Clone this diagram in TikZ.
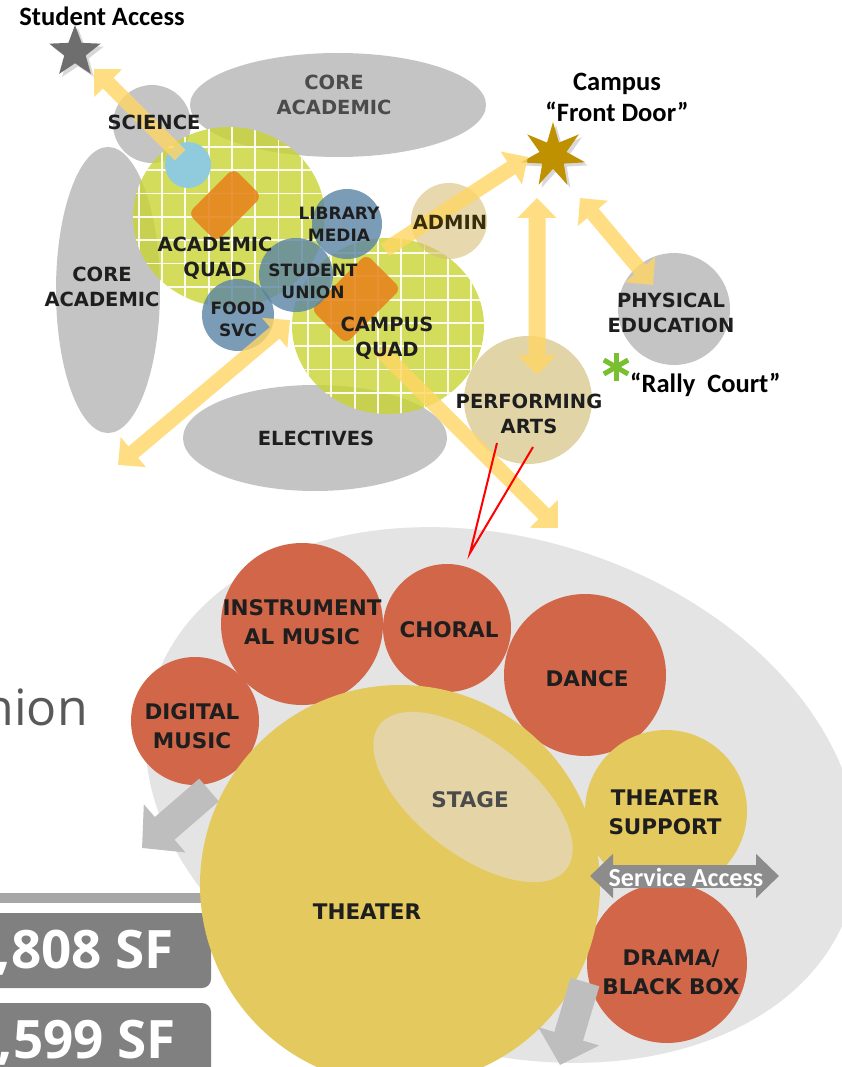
\documentclass[tikz,border=0pt]{standalone}
\usepackage{fontspec}
\setmainfont{Liberation Sans}
\newfontfamily\calfont{Carlito}
\newfontfamily\osfont{Open Sans}
\newfontfamily\labfont{DejaVu Sans}
\usetikzlibrary{shapes.geometric,arrows.meta,shadows}
\definecolor{coregray}{RGB}{196,196,196}
\definecolor{quadcol}{RGB}{200,212,50}
\definecolor{diacol}{RGB}{230,128,25}
\definecolor{bluecol}{RGB}{90,132,165}
\definecolor{ltblue}{RGB}{143,203,221}
\definecolor{admincol}{RGB}{215,190,120}
\definecolor{perfcol}{RGB}{216,200,140}
\definecolor{yarr}{RGB}{255,214,100}
\definecolor{fdgold}{RGB}{191,144,0}
\definecolor{stargray}{RGB}{110,110,110}
\definecolor{rallygreen}{RGB}{122,190,50}
\definecolor{bgell}{RGB}{228,228,228}
\definecolor{redc}{RGB}{210,102,72}
\definecolor{theatc}{RGB}{228,202,94}
\definecolor{stagec}{RGB}{228,212,166}
\definecolor{svcgray}{RGB}{140,140,140}
\definecolor{garrow}{RGB}{190,190,190}
\definecolor{boxgray}{RGB}{128,128,128}
\definecolor{bargray}{RGB}{166,166,166}
\definecolor{niongray}{RGB}{89,89,89}
\definecolor{txt}{RGB}{30,30,30}
\definecolor{admintxt}{RGB}{55,45,10}
\definecolor{softtxt}{RGB}{75,75,75}
\begin{document}
\begin{tikzpicture}[x=1pt,y=-1pt,
  lab/.style={font=\labfont\bfseries\fontsize{19.5}{25}\selectfont, align=center, inner sep=0pt, text=txt},
  labs/.style={font=\labfont\bfseries\fontsize{17}{22}\selectfont, align=center, inner sep=0pt, text=txt},
  labb/.style={font=\labfont\bfseries\fontsize{21.5}{29}\selectfont, align=center, inner sep=0pt, text=txt},
  callab/.style={font=\calfont\bfseries\fontsize{26.5}{31}\selectfont, align=center, inner sep=0pt, text=black},
  blob/.style={circle, inner sep=0pt, outer sep=0pt},
  oval/.style={ellipse, inner sep=0pt, outer sep=0pt},
  grayzone/.style={fill=coregray},
  quadzone/.style={fill=quadcol, fill opacity=0.8},
  gridline/.style={draw=white, line width=1.8pt, opacity=0.9},
  diamondzone/.style={rectangle, rounded corners=7pt, rotate=45, inner sep=0pt, fill=diacol, fill opacity=0.85},
  bluezone/.style={blob, fill=bluecol, fill opacity=0.8},
  yarrow/.style={draw=yarr, line width=15pt},
  gtarrow/.style={draw=garrow, line width=30pt},
  yh/.tip={Triangle[length=20pt, width=38pt]},
  gh/.tip={Triangle[length=30pt, width=62pt]},
  sh/.tip={Triangle[length=23pt, width=43pt]},
  redline/.style={draw=red, line width=2pt},
]
\useasboundingbox (0,0) rectangle (841,1067);
\fill[white] (0,0) rectangle (841,1067);

% ---------- bottom background ellipse ----------
\node[oval, fill=bgell, minimum width=730pt, minimum height=512pt, rotate=-17.6] (paell) at (502,795) {};

% ---------- top gray zones ----------
\node[oval, grayzone, minimum width=296pt, minimum height=104pt] (coretop) at (338,105) {};
\node[oval, grayzone, minimum width=104pt, minimum height=286pt] (coreleft) at (108,290) {};
\node[blob, grayzone, minimum size=78pt] (science) at (152,124) {};
\node[oval, grayzone, minimum width=264pt, minimum height=106pt] (electives) at (315,438) {};
\node[blob, grayzone, minimum size=112pt] (physed) at (674,309) {};

% ---------- quads ----------
\node[oval, quadzone, minimum width=192pt, minimum height=180pt] (aquad) at (229,217) {};
\begin{scope}
  \clip (229,217) ellipse [x radius=96, y radius=90];
  \foreach \k in {-2,...,8} \draw[gridline] ({162+23.3*\k},120) -- ({162+23.3*\k},320);
  \foreach \k in {-1,...,8} \draw[gridline] (120,{147+23.3*\k}) -- (340,{147+23.3*\k});
\end{scope}
\node[oval, quadzone, minimum width=192pt, minimum height=176pt] (cquad) at (388,326) {};
\begin{scope}
  \clip (388,326) ellipse [x radius=96, y radius=88];
  \foreach \k in {-1,...,9} \draw[gridline] ({308+23.3*\k},230) -- ({308+23.3*\k},420);
  \foreach \k in {-1,...,8} \draw[gridline] (285,{253+23.3*\k}) -- (490,{253+23.3*\k});
\end{scope}

\node[blob, fill=ltblue, minimum size=46pt] (lab1) at (188,165) {};
\node[diamondzone, minimum width=64pt, minimum height=40pt] (adia) at (225,205) {};
\node[diamondzone, minimum width=78pt, minimum height=49pt] (cdia) at (356,299) {};

\node[bluezone, minimum size=70pt] (library) at (347,224) {};
\node[bluezone, minimum size=74pt] (sunion) at (296,275) {};
\node[bluezone, minimum size=72pt] (food) at (238,315) {};

\node[blob, fill=admincol, fill opacity=0.6, minimum size=76pt] (admin) at (449,221) {};
\node[blob, fill=perfcol, fill opacity=0.75, minimum size=128pt] (perf) at (528,400) {};

% ---------- stars ----------
\node[star, star points=5, star point ratio=2.4, minimum size=54pt, inner sep=0pt, fill=stargray,
      drop shadow={shadow xshift=3pt, shadow yshift=-3pt, opacity=0.3}] (sastar) at (75,52) {};
\node[star, star points=7, star point ratio=2.4, minimum size=66pt, inner sep=0pt, fill=fdgold,
      drop shadow={shadow xshift=3pt, shadow yshift=-3pt, opacity=0.3}] (fdstar) at (553,155) {};

% ---------- yellow circulation arrows ----------
\coordinate (y1a) at (180,155);  \coordinate (y1b) at (94,69);
\coordinate (y2a) at (385,250);  \coordinate (y2b) at (528,157);
\coordinate (y3a) at (537,198);  \coordinate (y3b) at (537,375);
\coordinate (y4a) at (580,198);  \coordinate (y4b) at (653,285);
\coordinate (y5a) at (290,320);  \coordinate (y5b) at (118,465);
\coordinate (y6a) at (380,350);  \coordinate (y6b) at (558,528);
\begin{scope}[transparency group, opacity=0.8]
  \draw[yarrow, -yh] (y1a) -- (y1b);
  \draw[yarrow, -yh] (y2a) -- (y2b);
  \draw[yarrow, line width=17pt, yh-yh] (y3a) -- (y3b);
  \draw[yarrow, yh-yh] (y4a) -- (y4b);
  \draw[yarrow, yh-yh] (y5a) -- (y5b);
  \draw[yarrow, -yh] (y6a) -- (y6b);
\end{scope}

% ---------- top labels ----------
\node[callab] (salab) at (102,16) {Student Access};
\node[callab] (fdlab) at (617,97) {Campus\\“Front Door”};
\node[lab, text=softtxt] (coretoplab) at (334,95) {CORE\\ACADEMIC};
\node[lab] (corelab) at (102,287) {CORE\\ACADEMIC};
\node[lab] (scilab) at (154,122) {SCIENCE};
\node[lab] (aquadlab) at (215,258) {ACADEMIC\\QUAD};
\node[labs] (liblab) at (339,224) {LIBRARY\\MEDIA};
\node[labs] (sulab) at (313,281) {STUDENT\\UNION};
\node[labs] (foodlab) at (238,319) {FOOD\\SVC};
\node[lab] (cquadlab) at (387,338) {CAMPUS\\QUAD};
\node[lab, text=admintxt] (adminlab) at (450,222) {ADMIN};
\node[lab] (elelab) at (316,438) {ELECTIVES};
\node[lab] (pelab) at (671,313) {PHYSICAL\\EDUCATION};
\node[lab] (perflab) at (529,414) {PERFORMING\\ARTS};
\coordinate (rally) at (616,367);
\foreach \a in {90,30,-30}
  \draw[draw=rallygreen, line width=5pt] ([shift={(\a:14)}]rally) -- ([shift={(\a+180:14)}]rally);
\node[callab, anchor=base west] (rallylab) at (630,392) {“Rally\ \ Court”};

% ---------- red callout ----------
\coordinate (r1) at (497,443);
\coordinate (r2) at (533,447);
\coordinate (rtip) at (470,553);
\draw[redline] (r1) -- (rtip) -- (r2);

% ---------- left fragments ----------
\node[font=\osfont\fontsize{50}{60}\selectfont, text=niongray, anchor=base east, inner sep=0pt] (nion) at (88,725) {nion};
\fill[bargray] (-5,893) rectangle (217,903);
\node[rectangle, rounded corners=9pt, fill=boxgray, minimum width=240pt, minimum height=75pt, inner sep=0pt] (box1) at (91,950.5) {};
\node[rectangle, rounded corners=9pt, fill=boxgray, minimum width=240pt, minimum height=80pt, inner sep=0pt] (box2) at (91,1043) {};
\node[font=\osfont\bfseries\fontsize{53}{60}\selectfont, text=white, anchor=base east, inner sep=0pt] (sf1) at (174,968) {3,808 SF};
\node[font=\osfont\bfseries\fontsize{53}{60}\selectfont, text=white, anchor=base east, inner sep=0pt] (sf2) at (176,1058) {3,599 SF};

% ---------- performing arts detail ----------
\node[blob, fill=redc, minimum size=162pt] (instr) at (302,624) {};
\node[blob, fill=redc, minimum size=128pt] (digital) at (195,721) {};
\node[blob, fill=redc, minimum size=128pt] (choral) at (447,628) {};
\node[blob, fill=redc, minimum size=162pt] (dance) at (585,675) {};
\node[blob, fill=theatc, minimum size=162pt] (support) at (666,811) {};
\node[blob, fill=redc, minimum size=160pt] (drama) at (667,963) {};
\node[blob, fill=theatc, minimum size=400pt] (theater) at (400,885) {};
\node[oval, fill=stagec, minimum width=236pt, minimum height=114pt, rotate=-37.7] (stage) at (473,797) {};

\coordinate (svl) at (590,876);
\coordinate (svr) at (779,876);
\draw[draw=svcgray, line width=23pt, sh-sh] (svl) -- (svr);
\node[font=\calfont\bfseries\fontsize{26}{28}\selectfont, text=white, inner sep=0pt] (svclab) at (686,877) {Service Access};

\coordinate (g1a) at (209,790); \coordinate (g1b) at (142,848);
\coordinate (g2a) at (585,982); \coordinate (g2b) at (560,1065);
\draw[gtarrow, -gh] (g1a) -- (g1b);
\draw[gtarrow, -gh] (g2a) -- (g2b);

\node[labb] (instrlab) at (302,622) {INSTRUMENT\\AL MUSIC};
\node[labb] (diglab) at (192,726) {DIGITAL\\MUSIC};
\node[labb] (chorlab) at (449,630) {CHORAL};
\node[labb] (dancelab) at (587,679) {DANCE};
\node[labb, text=softtxt] (stagelab) at (470,800) {STAGE};
\node[labb] (theatlab) at (367,912) {THEATER};
\node[labb] (suplab) at (665,812) {THEATER\\SUPPORT};
\node[labb] (dramalab) at (671,972) {DRAMA/\\BLACK BOX};
\end{tikzpicture}
\end{document}
